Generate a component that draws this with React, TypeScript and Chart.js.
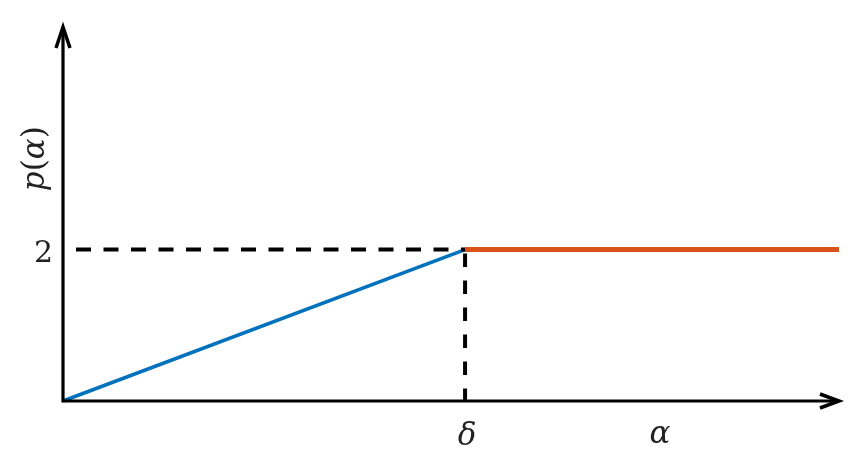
import React, { useEffect, useRef } from "react";
import { Chart, registerables } from "chart.js";

Chart.register(...registerables);

// ---- data ----
const deltaValue = 1;
const pLevel = 2;
const xMax = 1.93;
const yMax = 4.94;

const blueX = [0, deltaValue];
const blueY = [0, pLevel];
const orangeX = [deltaValue, xMax];
const orangeY = [pLevel, pLevel];
const dashHX = [0, deltaValue];
const dashHY = [pLevel, pLevel];
const dashVX = [deltaValue, deltaValue];
const dashVY = [pLevel, 0];

const xTickValues = [deltaValue];
const xTickLabels = ["δ"];
const yTickValues = [pLevel];
const yTickLabels = ["2"];
const xAxisTitle = "α";
const xTitleValue = 1.485;
const yTitleParts = [
  { t: "p", italic: true },
  { t: "(", italic: false },
  { t: "α", italic: true },
  { t: ")", italic: false },
];
const yTitleValue = 3.2;

const toPts = (xs: number[], ys: number[]) => xs.map((x, i) => ({ x, y: ys[i] }));

const FONT = '"DejaVu Serif", serif';

const decorPlugin = {
  id: "decor",
  afterDatasetsDraw(chart: any) {
    const ctx = chart.ctx as CanvasRenderingContext2D;
    const xs = chart.scales.x;
    const ys = chart.scales.y;
    const x0 = xs.getPixelForValue(0);
    const xEnd = xs.getPixelForValue(xMax);
    const y0 = ys.getPixelForValue(0);
    const yEnd = ys.getPixelForValue(yMax);
    ctx.save();
    ctx.strokeStyle = "#000";
    ctx.lineWidth = 3.2;
    ctx.lineCap = "butt";
    // axes
    ctx.beginPath();
    ctx.moveTo(x0, y0 + 1.6);
    ctx.lineTo(x0, yEnd + 2);
    ctx.moveTo(x0 - 1.6, y0);
    ctx.lineTo(xEnd - 2, y0);
    ctx.stroke();
    // arrow heads
    ctx.lineWidth = 3.5;
    ctx.lineJoin = "miter";
    ctx.beginPath();
    ctx.moveTo(x0 - 7, yEnd + 21);
    ctx.lineTo(x0, yEnd);
    ctx.lineTo(x0 + 7, yEnd + 21);
    ctx.moveTo(xEnd - 19, y0 - 7);
    ctx.lineTo(xEnd, y0);
    ctx.lineTo(xEnd - 19, y0 + 7);
    ctx.stroke();

    ctx.fillStyle = "#222";
    // y ticks
    ctx.font = `normal 30px ${FONT}`;
    ctx.textAlign = "right";
    ctx.textBaseline = "alphabetic";
    yTickValues.forEach((v, i) => {
      ctx.fillText(yTickLabels[i], x0 - 10, ys.getPixelForValue(v) + 12);
    });
    // x ticks
    ctx.font = `italic 31px ${FONT}`;
    ctx.textAlign = "center";
    xTickValues.forEach((v, i) => {
      ctx.fillText(xTickLabels[i], xs.getPixelForValue(v) + 2, y0 + 44);
    });
    // x title
    ctx.fillText(xAxisTitle, xs.getPixelForValue(xTitleValue), y0 + 42);
    // y title (rotated)
    ctx.save();
    const cy = ys.getPixelForValue(yTitleValue);
    ctx.translate(44, cy);
    ctx.rotate(-Math.PI / 2);
    ctx.textAlign = "left";
    let total = 0;
    const widths = yTitleParts.map((p) => {
      ctx.font = `${p.italic ? "italic" : "normal"} 31px ${FONT}`;
      const w = ctx.measureText(p.t).width;
      total += w;
      return w;
    });
    let cx = -total / 2;
    yTitleParts.forEach((p, i) => {
      ctx.font = `${p.italic ? "italic" : "normal"} 31px ${FONT}`;
      ctx.fillText(p.t, cx, 0);
      cx += widths[i];
    });
    ctx.restore();
    ctx.restore();
  },
};

export default function App() {
  const ref = useRef<HTMLCanvasElement>(null);
  useEffect(() => {
    document.body.style.margin = "0";
    const chart = new Chart(ref.current as HTMLCanvasElement, {
      type: "scatter",
      data: {
        datasets: [
          {
            data: toPts(dashHX, dashHY),
            showLine: true,
            borderColor: "#000",
            borderWidth: 4,
            borderDash: [15, 12.5],
            borderDashOffset: 14.5,
            pointRadius: 0,
            clip: false,
          } as any,
          {
            data: toPts(dashVX, dashVY),
            showLine: true,
            borderColor: "#000",
            borderWidth: 4,
            borderDash: [13.5, 13.5],
            borderDashOffset: 23,
            pointRadius: 0,
            clip: false,
          } as any,
          {
            data: toPts(blueX, blueY),
            showLine: true,
            borderColor: "#0072BD",
            borderWidth: 3.5,
            pointRadius: 0,
            clip: false,
          } as any,
          {
            data: toPts(orangeX, orangeY),
            showLine: true,
            borderColor: "#D95319",
            borderWidth: 5,
            pointRadius: 0,
            clip: false,
          } as any,
        ],
      },
      options: {
        responsive: false,
        animation: false,
        devicePixelRatio: 1,
        layout: { padding: { left: 63, right: 13, top: 27, bottom: 51 } },
        plugins: { legend: { display: false }, tooltip: { enabled: false } },
        scales: {
          x: { type: "linear", display: false, min: 0, max: xMax },
          y: { type: "linear", display: false, min: 0, max: yMax },
        },
      },
      plugins: [decorPlugin],
    });
    return () => chart.destroy();
  }, []);
  return (
    <div style={{ position: "absolute", left: 0, top: 0, width: 852, height: 452, background: "#fff" }}>
      <canvas ref={ref} width={852} height={452} />
    </div>
  );
}
